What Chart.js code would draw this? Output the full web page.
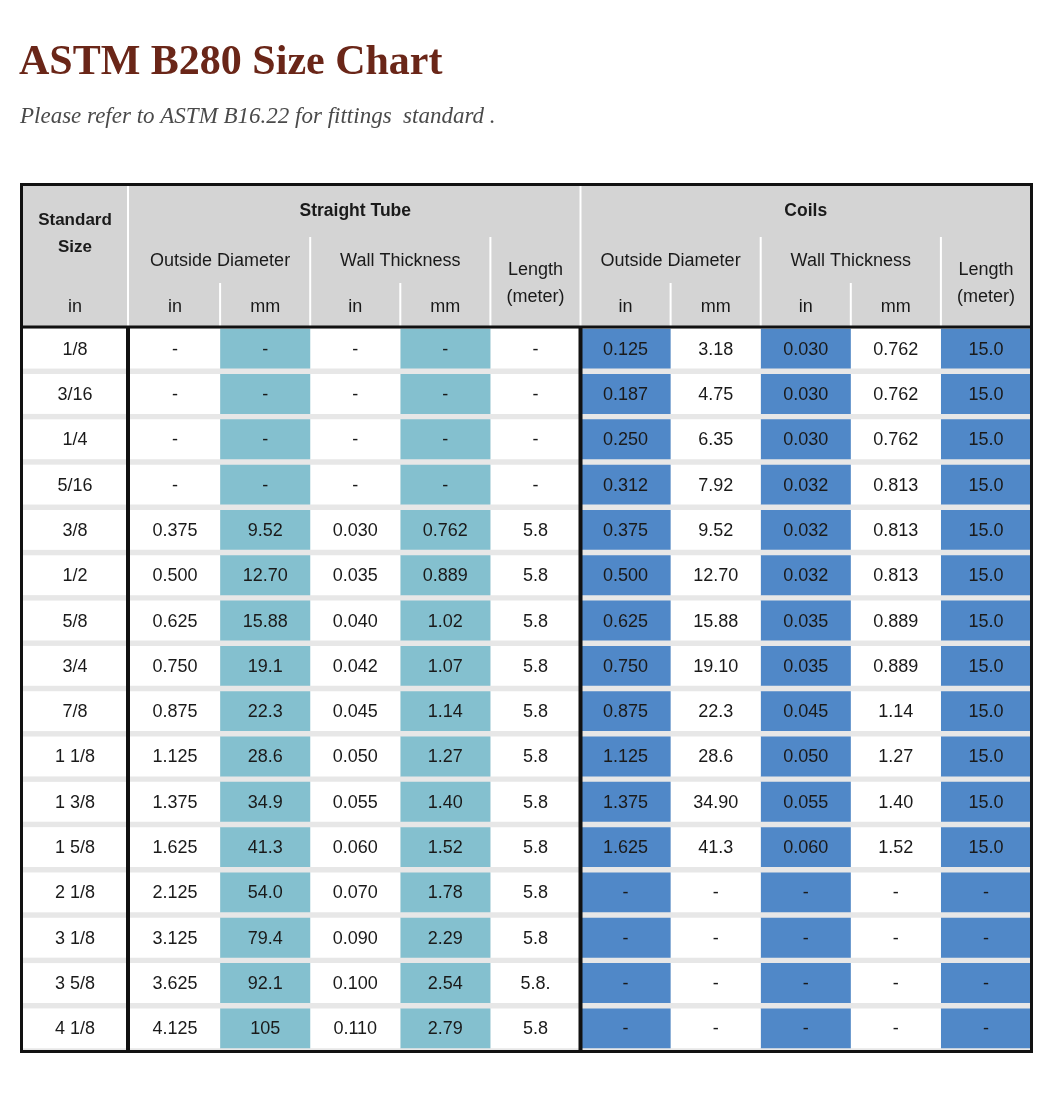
<!DOCTYPE html>
<html>
<head>
<meta charset="utf-8">
<title>ASTM B280 Size Chart</title>
<script src="https://cdn.jsdelivr.net/npm/chart.js@4.4.0/dist/chart.umd.min.js"></script>
<style>
  body { margin: 0; background: #fff; }
  canvas { display: block; }
</style>
</head>
<body>
<canvas id="sizeChart" width="1060" height="1093"></canvas>
<script>
  // Standard sizes (one row each)
  var sizes = ['1/8', '3/16', '1/4', '5/16', '3/8', '1/2', '5/8', '3/4', '7/8',
    '1 1/8', '1 3/8', '1 5/8', '2 1/8', '3 1/8', '3 5/8', '4 1/8'];

  // Straight tube
  var tubeOdIn = ['-', '-', '-', '-', '0.375', '0.500', '0.625', '0.750', '0.875',
    '1.125', '1.375', '1.625', '2.125', '3.125', '3.625', '4.125'];
  var tubeOdMm = ['-', '-', '-', '-', '9.52', '12.70', '15.88', '19.1', '22.3',
    '28.6', '34.9', '41.3', '54.0', '79.4', '92.1', '105'];
  var tubeWtIn = ['-', '-', '-', '-', '0.030', '0.035', '0.040', '0.042', '0.045',
    '0.050', '0.055', '0.060', '0.070', '0.090', '0.100', '0.110'];
  var tubeWtMm = ['-', '-', '-', '-', '0.762', '0.889', '1.02', '1.07', '1.14',
    '1.27', '1.40', '1.52', '1.78', '2.29', '2.54', '2.79'];
  var tubeLength = ['-', '-', '-', '-', '5.8', '5.8', '5.8', '5.8', '5.8',
    '5.8', '5.8', '5.8', '5.8', '5.8', '5.8.', '5.8'];

  // Coils
  var coilOdIn = ['0.125', '0.187', '0.250', '0.312', '0.375', '0.500', '0.625', '0.750',
    '0.875', '1.125', '1.375', '1.625', '-', '-', '-', '-'];
  var coilOdMm = ['3.18', '4.75', '6.35', '7.92', '9.52', '12.70', '15.88', '19.10',
    '22.3', '28.6', '34.90', '41.3', '-', '-', '-', '-'];
  var coilWtIn = ['0.030', '0.030', '0.030', '0.032', '0.032', '0.032', '0.035', '0.035',
    '0.045', '0.050', '0.055', '0.060', '-', '-', '-', '-'];
  var coilWtMm = ['0.762', '0.762', '0.762', '0.813', '0.813', '0.813', '0.889', '0.889',
    '1.14', '1.27', '1.40', '1.52', '-', '-', '-', '-'];
  var coilLength = ['15.0', '15.0', '15.0', '15.0', '15.0', '15.0', '15.0', '15.0',
    '15.0', '15.0', '15.0', '15.0', '-', '-', '-', '-'];

  // Header texts
  var groupLabels = ['Straight Tube', 'Coils'];
  var measureLabels = ['Outside Diameter', 'Wall Thickness'];
  var unitLabels = ['in', 'mm', 'in', 'mm'];

  var columns = [tubeOdIn, tubeOdMm, tubeWtIn, tubeWtMm, tubeLength,
    coilOdIn, coilOdMm, coilWtIn, coilWtMm, coilLength];
  var columnColors = ['#ffffff', '#84c0cf', '#ffffff', '#84c0cf', '#ffffff',
    '#5088c8', '#ffffff', '#5088c8', '#ffffff', '#5088c8'];

  var TEXT = '#1a1a1a';
  var SANS = '"Liberation Sans", Arial, sans-serif';

  // Draws header, size column, cell texts and rules around the bars
  const tablePlugin = {
    id: 'sizeTable',
    beforeDatasetsDraw(chart) {
      const { ctx, chartArea } = chart;
      ctx.save();
      // light grey bands between the rows
      ctx.fillStyle = '#e7e7e7';
      ctx.fillRect(21, chartArea.top, chartArea.right - 21, chartArea.bottom - chartArea.top);
      // white cells of the standard size column
      ctx.fillStyle = '#ffffff';
      chart.getDatasetMeta(0).data.forEach((bar) => {
        const p = bar.getProps(['y', 'height'], true);
        ctx.fillRect(21, p.y - p.height / 2, chartArea.left - 21, p.height);
      });
      ctx.restore();
    },
    afterDatasetsDraw(chart) {
      const { ctx, chartArea } = chart;
      const x = chart.scales.x;
      const y = chart.scales.y;
      const sizeCenter = (20 + x.getPixelForValue(0)) / 2;
      ctx.save();
      ctx.textAlign = 'center';
      ctx.textBaseline = 'middle';

      // cell texts
      ctx.font = '18px ' + SANS;
      ctx.fillStyle = TEXT;
      sizes.forEach((s, r) => {
        ctx.fillText(s, sizeCenter, y.getPixelForValue(r) + 1);
      });
      columns.forEach((col, c) => {
        col.forEach((v, r) => {
          ctx.fillText(v, x.getPixelForValue(c + 0.5), y.getPixelForValue(r) + 1);
        });
      });

      // header background
      const top = 184, headBottom = 326;
      ctx.fillStyle = '#d4d4d4';
      ctx.fillRect(21, top, chartArea.right - 21, headBottom - top);

      // white rules in the header
      ctx.strokeStyle = '#ffffff';
      ctx.lineWidth = 2;
      const vline = (px, y0, y1) => {
        ctx.beginPath(); ctx.moveTo(px, y0); ctx.lineTo(px, y1); ctx.stroke();
      };
      vline(x.getPixelForValue(0) - 2, top, headBottom);
      vline(x.getPixelForValue(5), top, headBottom);
      [2, 4, 7, 9].forEach((c) => vline(x.getPixelForValue(c), 237, headBottom));
      [1, 3, 6, 8].forEach((c) => vline(x.getPixelForValue(c), 283, headBottom));

      // header texts
      ctx.fillStyle = TEXT;
      ctx.font = 'bold 17px ' + SANS;
      ctx.fillText('Standard', sizeCenter, 220);
      ctx.fillText('Size', sizeCenter, 247);
      ctx.font = 'bold 17.5px ' + SANS;
      groupLabels.forEach((g, i) => {
        ctx.fillText(g, (x.getPixelForValue(i * 5) + x.getPixelForValue(i * 5 + 5)) / 2, 211);
      });
      ctx.font = '18px ' + SANS;
      ctx.fillText('in', sizeCenter, 307);
      [0, 5].forEach((base) => {
        measureLabels.forEach((m, i) => {
          ctx.fillText(m, x.getPixelForValue(base + i * 2 + 1), 261);
        });
        unitLabels.forEach((u, i) => {
          ctx.fillText(u, x.getPixelForValue(base + i + 0.5), 307);
        });
        ctx.fillText('Length', x.getPixelForValue(base + 4.5), 270);
        ctx.fillText('(meter)', x.getPixelForValue(base + 4.5), 297);
      });

      // black rules
      ctx.strokeStyle = '#111111';
      ctx.lineWidth = 3;
      ctx.strokeRect(21.5, 184.5, chartArea.right - 21, chartArea.bottom - 184);
      ctx.beginPath();
      ctx.moveTo(20, 327); ctx.lineTo(chartArea.right + 1, 327);
      ctx.stroke();
      ctx.lineWidth = 4;
      vline(x.getPixelForValue(0) - 2, 327, chartArea.bottom);
      vline(x.getPixelForValue(5), 327, chartArea.bottom);

      // title and note
      ctx.textAlign = 'left';
      ctx.textBaseline = 'alphabetic';
      ctx.fillStyle = '#6a2618';
      ctx.font = 'bold 42px "Liberation Serif", "DejaVu Serif", serif';
      ctx.fillText('ASTM B280 Size Chart', 19, 74);
      ctx.fillStyle = '#4a4a4a';
      ctx.font = 'italic 23px "Liberation Serif", "DejaVu Serif", serif';
      ctx.fillText('Please refer to ASTM B16.22 for fittings  standard .', 20, 123);
      ctx.restore();
    }
  };

  var ctx = document.getElementById('sizeChart').getContext('2d');
  var sizeChart = new Chart(ctx, {
    type: 'bar',
    data: {
      labels: sizes,
      datasets: columns.map((col, c) => ({
        label: 'col' + c,
        data: col.map(() => [c, c + 1]),
        backgroundColor: columnColors[c],
        borderWidth: 0,
        borderSkipped: false,
        grouped: false,
        barPercentage: 0.88,
        categoryPercentage: 1
      }))
    },
    options: {
      indexAxis: 'y',
      responsive: false,
      animation: false,
      layout: { padding: { left: 130, right: 29, top: 326, bottom: 42 } },
      scales: {
        x: { type: 'linear', min: 0, max: 10, display: false },
        y: { display: false }
      },
      plugins: {
        legend: { display: false },
        tooltip: { enabled: false }
      }
    },
    plugins: [tablePlugin]
  });
</script>
</body>
</html>
